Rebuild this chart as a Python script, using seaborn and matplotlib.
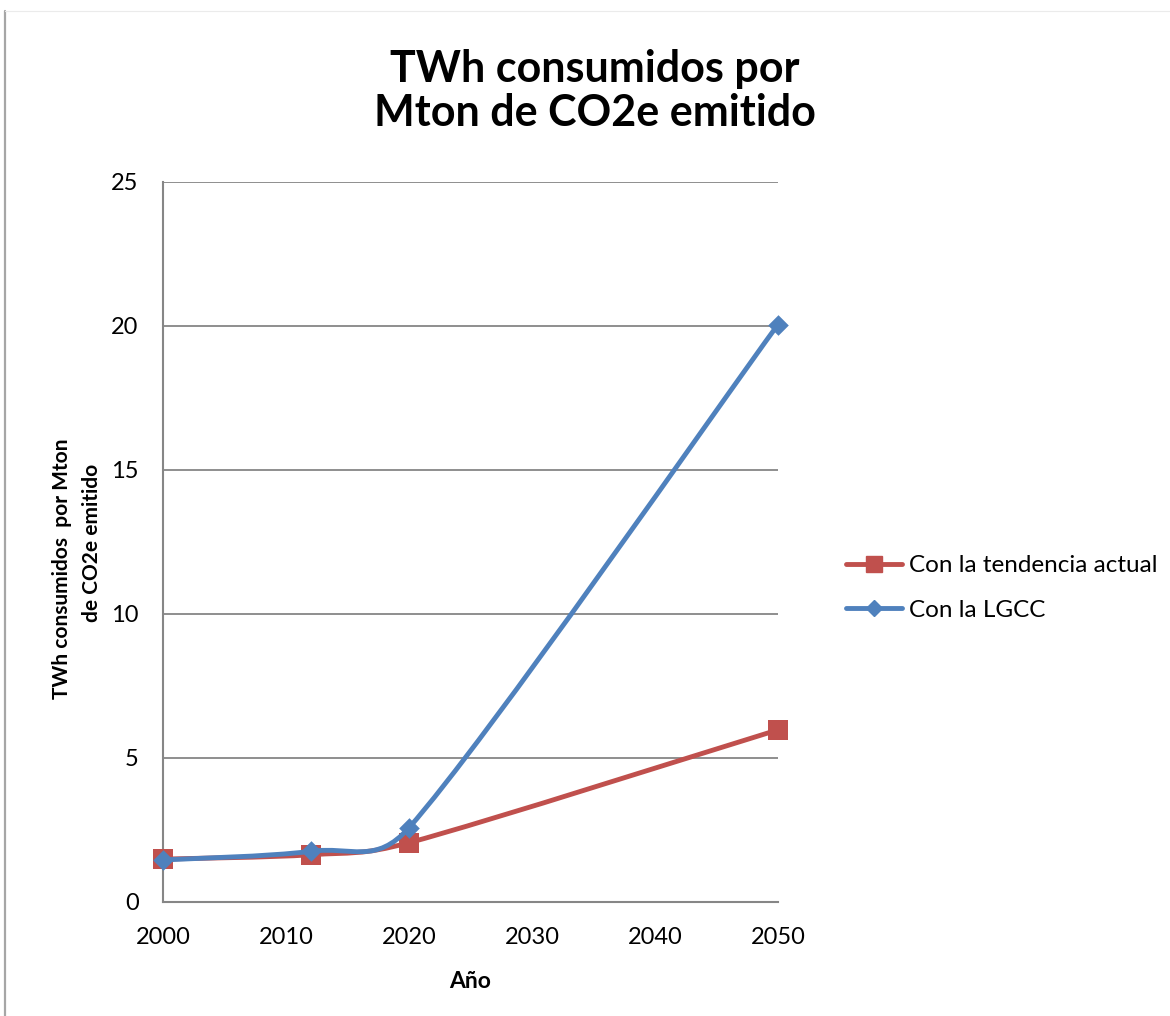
import matplotlib
matplotlib.use("Agg")
import matplotlib.pyplot as plt
from matplotlib.lines import Line2D
from matplotlib.path import Path
from matplotlib.patches import PathPatch
import numpy as np
import seaborn as sns

years = [2000, 2012, 2020, 2050]
tendencia_actual = [1.48, 1.63, 2.05, 5.97]
con_lgcc = [1.45, 1.75, 2.57, 20.05]
series_names = ["Con la tendencia actual", "Con la LGCC"]
x_ticks = [2000, 2010, 2020, 2030, 2040, 2050]
y_ticks = [0, 5, 10, 15, 20, 25]

RED = "#C0504D"
BLUE = "#4F81BD"
GRID = "#868686"


def excel_smooth_path(ax, xs, ys):
    """bezier path through the points, built the way excel smooths lines"""
    pts = ax.transData.transform(np.column_stack([xs, ys]))
    verts = [pts[0]]
    codes = [Path.MOVETO]
    n = len(pts)
    for i in range(n - 1):
        p_prev = pts[i - 1] if i > 0 else pts[i]
        p_next = pts[i + 2] if i + 2 < n else pts[i + 1]
        d = np.linalg.norm(pts[i + 1] - pts[i])
        a = pts[i + 1] - p_prev
        la = np.linalg.norm(a)
        f1 = 1 / 6 if la / 6 < d / 2 else d / (2 * la)
        b = p_next - pts[i]
        lb = np.linalg.norm(b)
        f2 = 1 / 6 if lb / 6 < d / 2 else d / (2 * lb)
        verts += [pts[i] + a * f1, pts[i + 1] - b * f2, pts[i + 1]]
        codes += [Path.CURVE4] * 3
    verts = ax.transData.inverted().transform(np.array(verts))
    return Path(verts, codes)


sns.set_theme(style="white")
plt.rcParams["font.family"] = ["Lato", "DejaVu Sans"]
plt.rcParams["text.color"] = "black"

fig = plt.figure(figsize=(11.7, 10.16), dpi=100)
ax = fig.add_axes([163 / 1170, 1 - 901.7 / 1016, 615 / 1170, 719.7 / 1016])
ax.set_xlim(2000, 2050)
ax.set_ylim(0, 25)

# red series first, blue on top (excel order)
for vals, color, marker, size, z in [
    (tendencia_actual, RED, "s", 225, 2),
    (con_lgcc, BLUE, "D", 110, 4),
]:
    path = excel_smooth_path(ax, years, vals)
    ax.add_patch(PathPatch(path, fill=False, edgecolor=color, lw=3.5, zorder=z,
                           capstyle="round", clip_on=False))
    sns.scatterplot(x=years, y=vals, marker=marker, s=size, color=color, linewidth=0,
                    ax=ax, zorder=z + 1, clip_on=False)

ax.set_xticks(x_ticks)
ax.set_yticks(y_ticks)
ax.tick_params(axis="both", labelsize=17, colors=GRID, labelcolor="black", length=6.5,
               width=1.3, direction="out")
ax.tick_params(axis="y", pad=11)
ax.tick_params(axis="x", pad=12)
ax.yaxis.grid(True, color=GRID, lw=1.3)
ax.set_axisbelow(True)
for side in ["top", "right"]:
    ax.spines[side].set_visible(False)
for side in ["left", "bottom"]:
    ax.spines[side].set_color(GRID)
    ax.spines[side].set_linewidth(1.5)

ax.set_xlabel("Año", fontsize=16.5, fontweight="bold", labelpad=16, color="black")
ax.set_ylabel("")
fig.text(62 / 1170, 1 - 569 / 1016, "TWh consumidos  por Mton", rotation=90,
         ha="center", va="center", fontsize=15, fontweight="bold")
fig.text(92 / 1170, 1 - 543 / 1016, "de CO2e emitido", rotation=90,
         ha="center", va="center", fontsize=15, fontweight="bold")

fig.text(595 / 1170, 1 - 91 / 1016, "TWh consumidos por\nMton de CO2e emitido",
         ha="center", va="center", fontsize=31, fontweight="bold", linespacing=1.1)

handles = [
    Line2D([], [], color=RED, lw=3.5, marker="s", markersize=12, solid_capstyle="round"),
    Line2D([], [], color=BLUE, lw=3.5, marker="D", markersize=8, solid_capstyle="round"),
]
ax.legend(handles, series_names, loc="center left", bbox_to_anchor=(846 / 1170, 1 - 588 / 1016),
          bbox_transform=fig.transFigure, frameon=False, fontsize=17.5, handlelength=2.3,
          handletextpad=0.3, labelspacing=0.95, borderpad=0, borderaxespad=0)

# chart area border, as in the excel export
fig.add_artist(Line2D([5 / 1170, 5 / 1170], [0, 1 - 11 / 1016], color="#A6A6A6", lw=1.6))
fig.add_artist(Line2D([5 / 1170, 1], [1 - 11 / 1016, 1 - 11 / 1016], color="#EBEBEB", lw=0.8))

fig.savefig("out.png", dpi=100)
